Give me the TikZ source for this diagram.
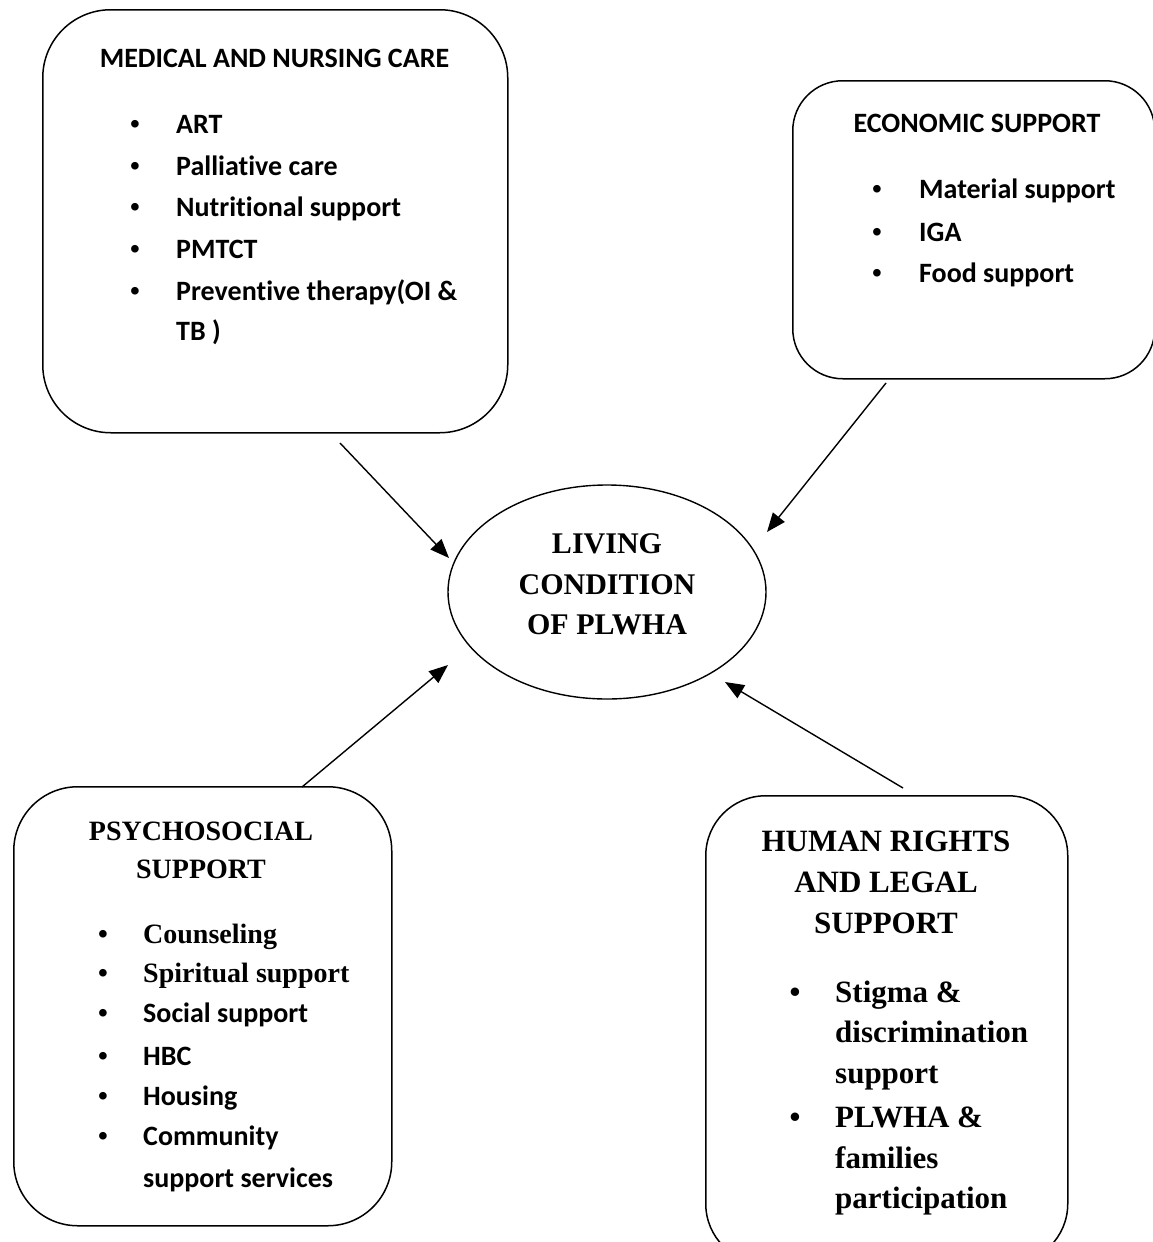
\documentclass[tikz,border=0pt]{standalone}
\usepackage{fontspec}
\setmainfont{Liberation Serif}
\newfontfamily\sansf[Ligatures=NoCommon]{Carlito}
\usetikzlibrary{shapes.geometric,arrows.meta}
\begin{document}
\begin{tikzpicture}[x=1pt,y=-1pt,
  box/.style={draw, line width=1.5pt, rounded corners=#1, inner sep=0pt, anchor=north west},
  oval/.style={draw, ellipse, line width=1.4pt, inner sep=0pt},
  arr/.style={line width=1.4pt, -{Triangle[length=19pt,width=15pt]}},
  st/.style={font=\sansf\bfseries\fontsize{28}{30}\selectfont, inner sep=0pt},
  rm/.style={font=\bfseries\fontsize{#1}{#1}\selectfont, inner sep=0pt},
  bul/.style={font=\bfseries\fontsize{#1}{#1}\selectfont, inner sep=0pt, anchor=base}
]
\useasboundingbox (0,0) rectangle (1153,1242);
\clip (0,0) rectangle (1153,1242);

% boxes
\node[box=68pt, minimum width=465pt, minimum height=423pt] (med) at (42,9) {};
\node[box=50pt, minimum width=362pt, minimum height=298pt] (eco) at (792,80) {};
\node[box=64pt, minimum width=378pt, minimum height=439pt] (psy) at (13,786) {};
\node[box=60pt, minimum width=362pt, minimum height=468pt] (hum) at (705,795) {};
\node[oval, minimum width=318pt, minimum height=214pt] (liv) at (607,592) {};

% ellipse text
\node[rm=30, anchor=base] (l1) at (607,553) {LIVING};
\node[rm=30, anchor=base] (l2) at (607,594) {CONDITION};
\node[rm=30, anchor=base] (l3) at (607,634) {OF PLWHA};

% medical
\node[st, anchor=base] (m0) at (274.5,67) {MEDICAL AND NURSING CARE};
\foreach \y/\t [count=\i] in {133/ART,175/Palliative care,216/Nutritional support,258/PMTCT,300/{Preventive therapy(OI \&}} {
  \node[bul=28] (mb\i) at (135,\y) {•};
  \node[st, anchor=base west] (mi\i) at (176,\y) {\t};
}
\node[st, anchor=base west] (mi6) at (176,340) {TB )};

% economic
\node[st, anchor=base] (e0) at (977,132) {ECONOMIC SUPPORT};
\foreach \y/\t [count=\i] in {198/Material support,241/IGA,282/Food support} {
  \node[bul=28] (eb\i) at (877,\y) {•};
  \node[st, anchor=base west] (ei\i) at (919,\y) {\t};
}

% psychosocial
\node[rm=28, anchor=base] (p0) at (201,840) {PSYCHOSOCIAL};
\node[rm=28, anchor=base] (p00) at (201,878) {SUPPORT};
\foreach \y [count=\i] in {943,982,1022,1065,1105,1145} {
  \node[bul=28] (pb\i) at (103,\y) {•};
}
\node[rm=28, anchor=base west] (pi1) at (143,943) {Counseling};
\node[rm=28, anchor=base west] (pi2) at (143,982) {Spiritual support};
\node[st, anchor=base west] (pi3) at (143,1022) {Social support};
\node[st, anchor=base west] (pi4) at (143,1065) {HBC};
\node[st, anchor=base west] (pi5) at (143,1105) {Housing};
\node[st, anchor=base west] (pi6) at (143,1145) {Community};
\node[st, anchor=base west] (pi7) at (143,1187) {support services};

% human rights
\node[rm=31, anchor=base] (h0) at (886,851) {HUMAN RIGHTS};
\node[rm=31, anchor=base] (h00) at (886,892) {AND LEGAL};
\node[rm=31, anchor=base] (h000) at (886,933) {SUPPORT};
\node[bul=31] (hb1) at (795,1002) {•};
\node[bul=31] (hb2) at (795,1127) {•};
\foreach \y/\t [count=\i] in {1002/Stigma \&,1042/discrimination,1083/support,1127/PLWHA \&,1168/families,1208/participation} {
  \node[rm=31, anchor=base west] (hi\i) at (835,\y) {\t};
}

% connectors
\coordinate (a1s) at (340,443); \coordinate (a1e) at (449,558);
\coordinate (a2s) at (886,383); \coordinate (a2e) at (767,532);
\coordinate (a3s) at (302,787); \coordinate (a3e) at (448,665);
\coordinate (a4s) at (903,788); \coordinate (a4e) at (725,682);
\draw[arr] (a1s) -- (a1e);
\draw[arr] (a2s) -- (a2e);
\draw[arr] (a3s) -- (a3e);
\draw[arr] (a4s) -- (a4e);
\end{tikzpicture}
\end{document}
